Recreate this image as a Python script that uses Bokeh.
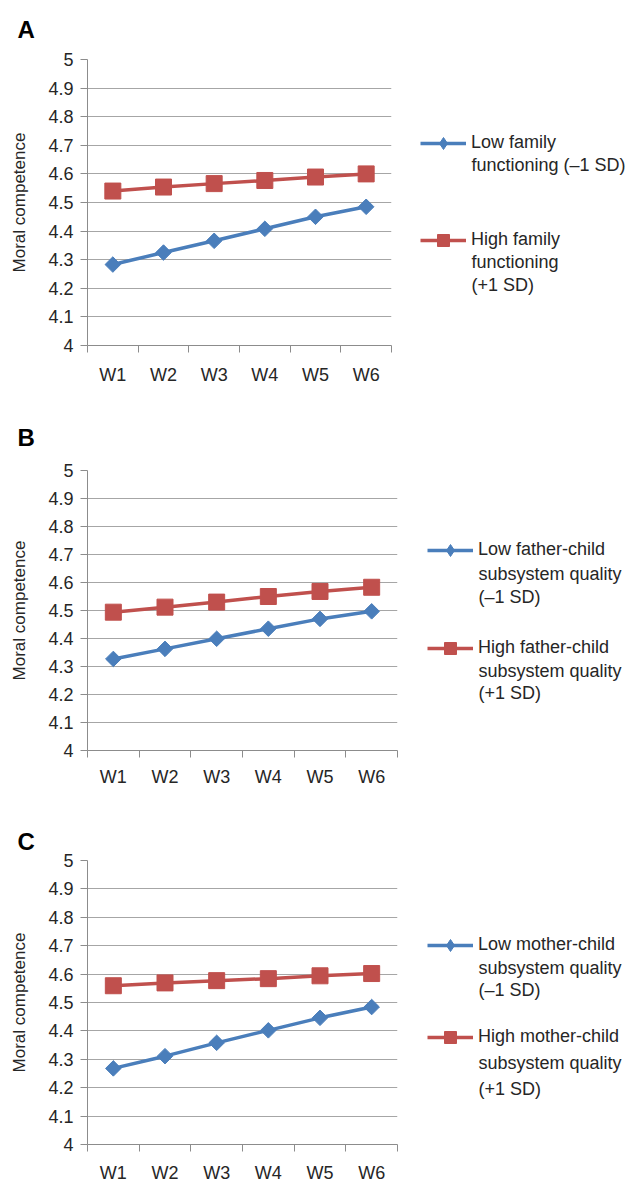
from bokeh.plotting import figure
from bokeh.layouts import column, row
from bokeh.models import Range1d, FixedTicker, NumeralTickFormatter, Legend, LegendItem, Label
from bokeh.embed import file_html
from bokeh.resources import INLINE

# ---------------- data ----------------
waves = ["W1", "W2", "W3", "W4", "W5", "W6"]
y_ticks = [4.0, 4.1, 4.2, 4.3, 4.4, 4.5, 4.6, 4.7, 4.8, 4.9, 5.0]

a_low = [4.283, 4.325, 4.366, 4.408, 4.450, 4.485]
a_high = [4.540, 4.554, 4.566, 4.577, 4.589, 4.600]
b_low = [4.327, 4.363, 4.399, 4.435, 4.470, 4.497]
b_high = [4.494, 4.512, 4.530, 4.550, 4.568, 4.583]
c_low = [4.268, 4.311, 4.358, 4.402, 4.446, 4.484]
c_high = [4.559, 4.569, 4.577, 4.584, 4.594, 4.602]

a_labels = [["Low family", "functioning (\u20131 SD)"],
            ["High family", "functioning", "(+1 SD)"]]
b_labels = [["Low father-child", "subsystem quality", "(\u20131 SD)"],
            ["High father-child", "subsystem quality", "(+1 SD)"]]
c_labels = [["Low mother-child", "subsystem quality", "(\u20131 SD)"],
            ["High mother-child", "subsystem quality", "(+1 SD)"]]

FONT = "Liberation Sans"
BLUE = "#4a7ebb"
RED = "#c0504d"
TXT = "#262626"
GRID = "#a6a6a6"
AXIS = "#8c8c8c"
FS = "18px"


def make_panel(letter, low, high, labels, height, top, bottom, chart_w,
               title_valign, title_standoff, xlab_standoff, leg_x, first_lines, gaps):
    n = len(waves)
    xs = [i + 0.5 for i in range(n)]
    p = figure(width=chart_w, height=height, x_range=Range1d(0, n), y_range=Range1d(4, 5),
               output_backend="svg", toolbar_location=None,
               min_border_left=87, min_border_right=1,
               min_border_top=top, min_border_bottom=bottom)
    p.outline_line_color = None
    p.background_fill_color = "white"
    p.border_fill_color = "white"

    # title (panel letter)
    p.title.text = letter
    p.title.align = "left"
    p.title.offset = -70
    p.title.vertical_align = title_valign
    p.title.text_font = FONT
    p.title.text_font_size = "24px"
    p.title.text_font_style = "bold"
    p.title.text_color = "black"
    p.title.standoff = title_standoff

    # grids
    p.xgrid.visible = False
    p.ygrid.grid_line_color = GRID
    p.ygrid.grid_line_width = 1
    p.ygrid.ticker = FixedTicker(ticks=y_ticks)

    # y axis
    ya = p.yaxis[0]
    ya.ticker = FixedTicker(ticks=y_ticks)
    ya.formatter = NumeralTickFormatter(format="0.[0]")
    ya.axis_line_color = AXIS
    ya.major_tick_line_color = AXIS
    ya.major_tick_out = 7
    ya.major_tick_in = 0
    ya.minor_tick_line_color = None
    ya.major_label_standoff = 7
    ya.major_label_text_font = FONT
    ya.major_label_text_font_size = FS
    ya.major_label_text_color = TXT
    ya.axis_label = "Moral competence"
    ya.axis_label_text_font = FONT
    ya.axis_label_text_font_size = "17px"
    ya.axis_label_text_font_style = "normal"
    ya.axis_label_text_color = TXT
    ya.axis_label_standoff = 16

    # x axis: labels at category centres, ticks at category boundaries
    xa = p.xaxis[0]
    xa.ticker = FixedTicker(ticks=xs, minor_ticks=list(range(n + 1)))
    xa.major_label_overrides = {x: w for x, w in zip(xs, waves)}
    xa.axis_line_color = AXIS
    xa.major_tick_out = 0
    xa.major_tick_in = 0
    xa.minor_tick_out = 7
    xa.minor_tick_in = 0
    xa.minor_tick_line_color = AXIS
    xa.major_label_standoff = xlab_standoff
    xa.major_label_text_font = FONT
    xa.major_label_text_font_size = FS
    xa.major_label_text_color = TXT

    # series
    p.line(xs, low, line_color=BLUE, line_width=3.5)
    p.scatter(xs, low, marker="square", size=11, angle=45, angle_units="deg",
              fill_color=BLUE, line_color=BLUE)
    p.line(xs, high, line_color=RED, line_width=3.5)
    p.scatter(xs, high, marker="square", size=16, fill_color=RED, line_color=RED)

    # ---------- legend figure (to the right of the chart) ----------
    lw = 631 - chart_w
    fb = height - bottom          # frame bottom (local pixel y)
    lf = figure(width=lw, height=height, x_range=Range1d(0, lw), y_range=Range1d(fb, top),
                output_backend="svg", toolbar_location=None,
                x_axis_location=None, y_axis_location=None,
                min_border_left=0, min_border_right=0,
                min_border_top=top, min_border_bottom=bottom)
    lf.outline_line_color = None
    lf.grid.visible = False
    lf.background_fill_color = "white"
    lf.border_fill_color = "white"
    k1l = lf.line(xs, low, line_color=BLUE, line_width=3.5, visible=False)
    k1m = lf.scatter(xs, low, marker="diamond", size=11, fill_color=BLUE, line_color=BLUE,
                     visible=False)
    k2l = lf.line(xs, high, line_color=RED, line_width=3.5, visible=False)
    k2m = lf.scatter(xs, high, marker="square", size=16, fill_color=RED, line_color=RED,
                     visible=False)

    gh = 30
    spacing = first_lines[1] - first_lines[0] - gh
    bottom_y = first_lines[1] + gh / 2
    legend = Legend(items=[LegendItem(label=labels[0][0], renderers=[k1l, k1m]),
                           LegendItem(label=labels[1][0], renderers=[k2l, k2m])],
                    location=(leg_x, fb - bottom_y))
    legend.click_policy = "none"
    legend.margin = 0
    legend.padding = 0
    legend.spacing = int(round(spacing))
    legend.border_line_color = None
    legend.background_fill_alpha = 0
    legend.glyph_width = 46
    legend.glyph_height = gh
    legend.label_standoff = 5
    legend.label_text_font = FONT
    legend.label_text_font_size = FS
    legend.label_text_color = TXT
    legend.label_height = gh
    lf.add_layout(legend)

    text_x = leg_x + 46 + 5
    for item, y0, gap in zip(labels, first_lines, gaps):
        for k, line in enumerate(item[1:], start=1):
            lf.add_layout(Label(x=text_x, y=y0 + k * gap, text=line,
                                text_font=FONT, text_font_size=FS, text_color=TXT,
                                text_baseline="middle", text_align="left"))
    return row(p, lf, spacing=0)


pa = make_panel("A", a_low, a_high, a_labels, 400, 59, 55, 392, "top", 29, 12,
                28, [142.5, 239.5], [21.5, 22.3])
pb = make_panel("B", b_low, b_high, b_labels, 405, 70, 55, 398, "bottom", 40, 9,
                29, [150, 247.7], [23, 22.3])
pc = make_panel("C", c_low, c_high, c_labels, 380, 55, 40, 398, "bottom", 12, 11,
                29, [141, 232.7], [22, 26])

layout = column(pa, pb, pc, spacing=0)
open("out.html", "w").write(file_html(layout, INLINE))
